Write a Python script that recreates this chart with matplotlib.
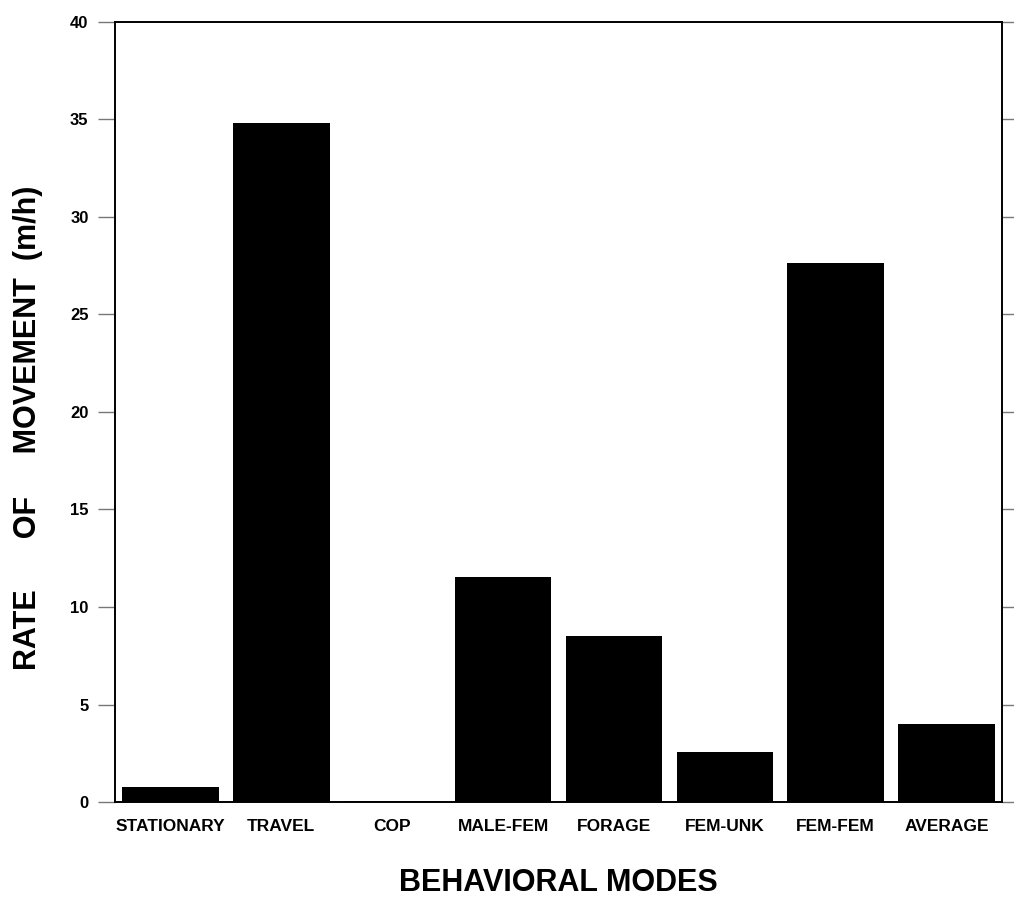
import numpy as np
from matplotlib import pyplot as plt

modes = ['STATIONARY', 'TRAVEL', 'COP', 'MALE-FEM', 'FORAGE',
         'FEM-UNK', 'FEM-FEM', 'AVERAGE']
rates = [0.77, 34.8, 0.05, 11.55, 8.5, 2.55, 27.65, 4.0]
y_ticks = [0, 5, 10, 15, 20, 25, 30, 35, 40]

plt.rcParams['font.family'] = ['Liberation Sans', 'DejaVu Sans']
plt.rcParams['font.weight'] = 'bold'

fig = plt.figure(figsize=(10.14, 8.97), dpi=100)
ax = fig.add_axes([0.1134, 0.1059, 0.8748, 0.8696])

x = np.arange(len(modes))
ax.bar(x, rates, width=0.87, color='black', edgecolor='black', linewidth=0)

ax.set_xlim(-0.5, len(modes) - 0.5)
ax.set_ylim(0, 40)
ax.set_yticks(y_ticks)
ax.set_yticklabels([str(t) for t in y_ticks], fontsize=12, fontweight='bold')
ax.set_xticks(x)
ax.set_xticklabels(modes, fontsize=12.5, fontweight='bold')

ax.tick_params(axis='x', length=0, pad=12)
ax.tick_params(axis='y', which='both', direction='out', length=12, width=1,
               color='#777777', pad=7, right=True)

for side in ['left', 'right', 'top', 'bottom']:
    ax.spines[side].set_linewidth(1.4)
    ax.spines[side].set_color('black')

ax.set_xlabel('BEHAVIORAL MODES', fontsize=22, fontweight='bold', labelpad=25)
ax.set_ylabel('RATE      OF     MOVEMENT  (m/h)', fontsize=22, fontweight='bold')
ax.yaxis.set_label_coords(-0.081, 0.48)

fig.savefig('out.png', dpi=100, facecolor='white')
